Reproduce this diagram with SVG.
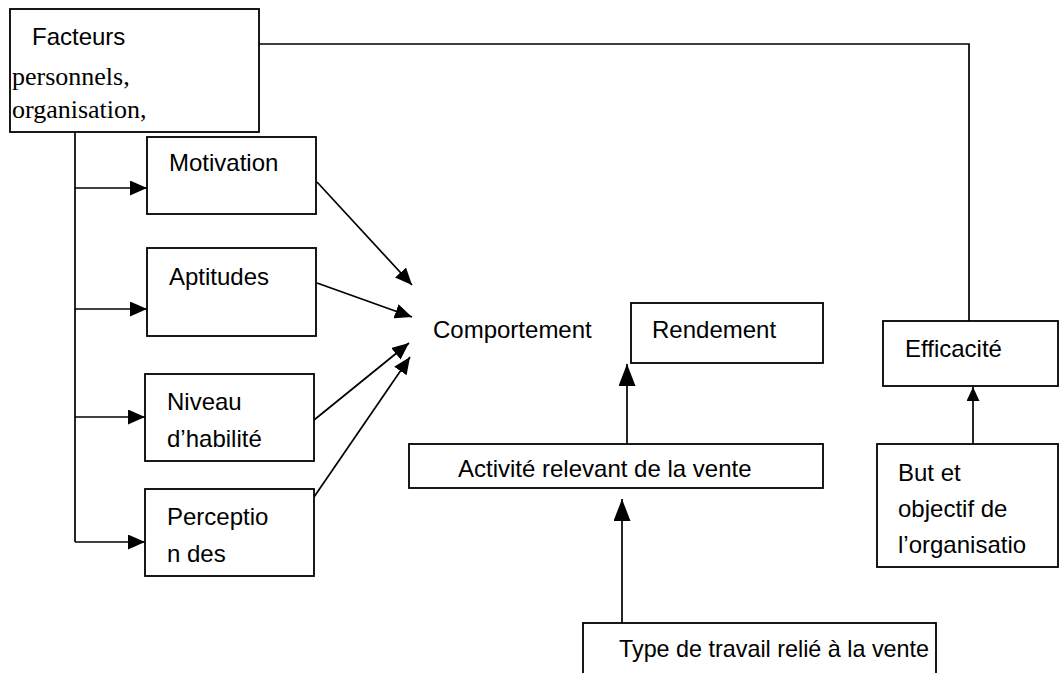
<svg xmlns="http://www.w3.org/2000/svg" width="1062" height="673" viewBox="0 0 1062 673">
<style>
.box{fill:#fff;stroke:#000;stroke-width:1.8}
.t{font-family:"Liberation Sans",Arial,sans-serif;font-size:24px;fill:#000}
.s{font-family:"Liberation Serif","Times New Roman",serif;font-size:26px;fill:#000}
.c{fill:none;stroke:#000;stroke-width:1.7}
</style>
<defs>
<marker id="arr" viewBox="0 0 17 15" refX="17" refY="7.5" markerWidth="17" markerHeight="15" markerUnits="userSpaceOnUse" orient="auto"><path d="M0,0 L17,7.5 L0,15 z" fill="#000"/></marker>
<marker id="arrL" viewBox="0 0 22 17" refX="22" refY="8.5" markerWidth="22" markerHeight="17" markerUnits="userSpaceOnUse" orient="auto"><path d="M0,0 L22,8.5 L0,17 z" fill="#000"/></marker>
<marker id="arrS" viewBox="0 0 14 13" refX="14" refY="6.5" markerWidth="14" markerHeight="13" markerUnits="userSpaceOnUse" orient="auto"><path d="M0,0 L14,6.5 L0,13 z" fill="#000"/></marker>
</defs>
<rect width="1062" height="673" fill="#fff"/>
<g id="connectors">
<path class="c" d="M259,44 H969 V321"/>
<path class="c" d="M75,132 V542"/>
<path class="c" d="M75,188 H147" marker-end="url(#arr)"/>
<path class="c" d="M75,309 H147" marker-end="url(#arr)"/>
<path class="c" d="M75,417 H145" marker-end="url(#arr)"/>
<path class="c" d="M75,542 H145" marker-end="url(#arr)"/>
<path class="c" d="M317,182 L412,285" marker-end="url(#arr)"/>
<path class="c" d="M317,283 L412,317" marker-end="url(#arr)"/>
<path class="c" d="M314,420 L409,343" marker-end="url(#arr)"/>
<path class="c" d="M314,497 L410,357" marker-end="url(#arr)"/>
<path class="c" d="M627,444 V364" marker-end="url(#arrL)"/>
<path class="c" d="M622,623 V499" marker-end="url(#arrL)"/>
<path class="c" d="M973,444 V387" marker-end="url(#arrS)"/>
</g>
<g id="facteurs">
<rect class="box" x="10" y="9" width="249" height="123"/>
<text class="t" x="32" y="45">Facteurs</text>
<text class="s" x="12" y="85">personnels,</text>
<text class="s" x="12" y="118">organisation,</text>
</g>
<g id="motivation">
<rect class="box" x="147" y="137" width="169" height="77"/>
<text class="t" x="169" y="171">Motivation</text>
</g>
<g id="aptitudes">
<rect class="box" x="147" y="248" width="169" height="88"/>
<text class="t" x="169" y="285">Aptitudes</text>
</g>
<g id="niveau">
<rect class="box" x="145" y="374" width="169" height="87"/>
<text class="t" x="167" y="410">Niveau</text>
<text class="t" x="167" y="447">d’habilité</text>
</g>
<g id="perception">
<rect class="box" x="145" y="489" width="169" height="87"/>
<text class="t" x="167" y="525">Perceptio</text>
<text class="t" x="167" y="562">n des</text>
</g>
<g id="comportement">
<text class="t" x="433" y="338">Comportement</text>
</g>
<g id="rendement">
<rect class="box" x="631" y="303" width="192" height="60"/>
<text class="t" x="652" y="338">Rendement</text>
</g>
<g id="activite">
<rect class="box" x="409" y="444" width="414" height="44"/>
<text class="t" x="458" y="477">Activité relevant de la vente</text>
</g>
<g id="type">
<rect class="box" x="583" y="623" width="353" height="60"/>
<text class="t" x="619" y="657" textLength="310" lengthAdjust="spacingAndGlyphs">Type de travail relié à la vente</text>
</g>
<g id="efficacite">
<rect class="box" x="883" y="321" width="175" height="65"/>
<text class="t" x="905" y="357">Efficacité</text>
</g>
<g id="but">
<rect class="box" x="877" y="444" width="181" height="123"/>
<text class="t" x="898" y="481">But et</text>
<text class="t" x="898" y="517">objectif de</text>
<text class="t" x="898" y="553">l’organisatio</text>
</g>
</svg>
